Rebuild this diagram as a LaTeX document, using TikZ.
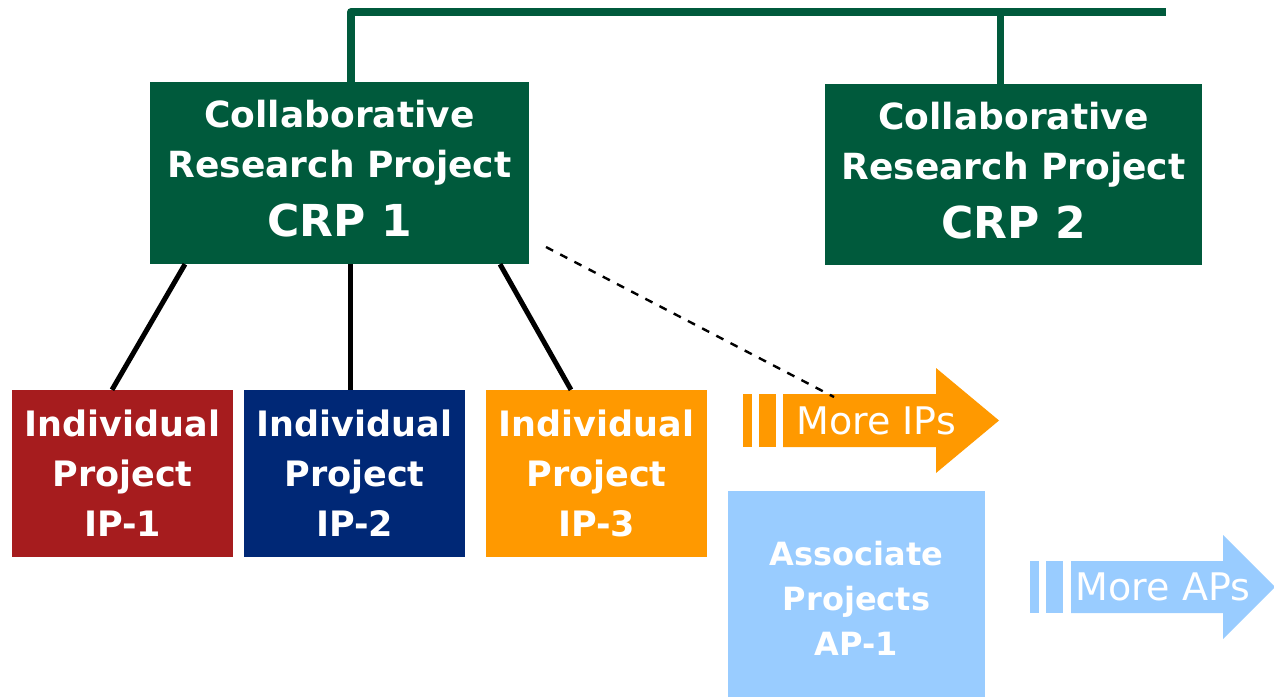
\documentclass[tikz,border=0pt]{standalone}
\usepackage{fontspec}
\setmainfont{DejaVu Sans}
\definecolor{crpgreen}{RGB}{0,90,60}
\definecolor{ipred}{RGB}{166,28,30}
\definecolor{ipblue}{RGB}{0,40,118}
\definecolor{iporange}{RGB}{255,153,0}
\definecolor{aplight}{RGB}{153,204,255}
\tikzset{
  crpbox/.style={fill=crpgreen, text=white, inner sep=0pt, minimum width=379, minimum height=182,
    align=center, font=\fontsize{36}{50}\selectfont\bfseries},
  ipbox/.style={text=white, inner sep=0pt, minimum width=221, minimum height=167,
    align=center, font=\fontsize{35}{50}\selectfont\bfseries},
  apbox/.style={fill=aplight, text=white, inner sep=0pt, minimum width=257, minimum height=206,
    align=center, font=\fontsize{32}{45}\selectfont\bfseries},
  arrowtext/.style={text=white, inner sep=0pt, font=\fontsize{38}{44}\selectfont},
  greenline/.style={draw=crpgreen, line width=8, line join=round},
  treeline/.style={draw=black, line width=5},
  dashline/.style={draw=black, line width=2.4, dash pattern=on 8 off 8}
}
\begin{document}
\begin{tikzpicture}[x=1pt,y=-1pt]
\useasboundingbox (0,0) rectangle (1274,697);

% boxes
\node[crpbox] (crp1) at (339.5,173) {};
\node[crpbox, minimum width=377, minimum height=181] (crp2) at (1013.5,174.5) {};
\node[crpbox, fill=none, minimum width=0, minimum height=0] (crp1text) at (339.5,169)
  {Collaborative\\Research Project\\[9pt]{\fontsize{44}{56}\selectfont CRP 1}};
\node[crpbox, fill=none, minimum width=0, minimum height=0] (crp2text) at (1013.5,171)
  {Collaborative\\Research Project\\[9pt]{\fontsize{44}{56}\selectfont CRP 2}};

\node[ipbox, fill=ipred] (ip1) at (122.5,473.5) {Individual\\Project\\IP-1};
\node[ipbox, fill=ipblue] (ip2) at (354.5,473.5) {Individual\\Project\\IP-2};
\node[ipbox, fill=iporange] (ip3) at (596.5,473.5) {Individual\\Project\\IP-3};

\node[apbox] (ap1) at (856.5,594) {};
\node[apbox, fill=none, minimum width=0, minimum height=0] (ap1text) at (856.5,598) {Associate\\Projects\\AP-1};

% More IPs arrow
\fill[iporange] (743,394) rectangle (752,447);
\fill[iporange] (759,394) rectangle (776,447);
\fill[iporange] (783,394) -- (936,394) -- (936,368) -- (999,420.5) -- (936,473) -- (936,447) -- (783,447) -- cycle;
\node[arrowtext] (moreips) at (876,421) {More IPs};

% More APs arrow
\fill[aplight] (1030,561) rectangle (1039,613);
\fill[aplight] (1046,561) rectangle (1063,613);
\fill[aplight] (1071,561) -- (1223,561) -- (1223,535) -- (1275,587) -- (1223,639) -- (1223,613) -- (1071,613) -- cycle;
\node[arrowtext] (moreaps) at (1163,587) {More APs};

% top green connectors
\coordinate (topleft) at (351,12);
\coordinate (topjoin) at (1000,12);
\coordinate (topright) at (1166,12);
\draw[greenline] (crp1.north -| topleft) -- (topleft) -- (topright);
\draw[greenline, line width=7] (topjoin) -- (crp2.north -| topjoin);

% tree lines
\draw[treeline] ([xshift=-154.5]crp1.south) -- ([xshift=-10.5]ip1.north);
\draw[treeline] ([xshift=10.5]crp1.south) -- ([xshift=-4.5]ip2.north);
\draw[treeline] ([xshift=160.5]crp1.south) -- ([xshift=-25.5]ip3.north);

% dashed connector
\coordinate (dstart) at (546,247);
\coordinate (dend) at (834,397);
\draw[dashline] (dstart) -- (dend);
\end{tikzpicture}
\end{document}
